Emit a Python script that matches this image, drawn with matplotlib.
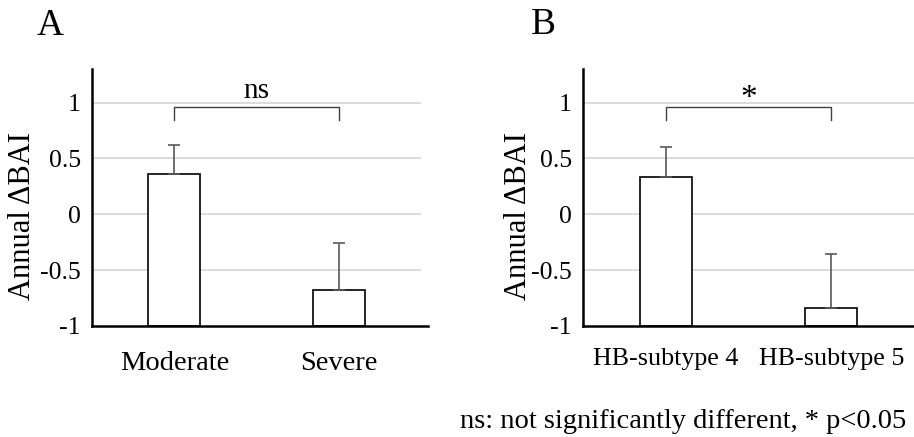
import matplotlib
matplotlib.use("Agg")
import matplotlib.pyplot as plt
import numpy as np

plt.rcParams['font.family'] = ['Liberation Serif', 'DejaVu Serif']

# Data
cats_a = ["Moderate", "Severe"]
vals_a = [0.357, -0.68]
err_a = [0.26, 0.42]
sig_a = "ns"

cats_b = ["HB-subtype 4", "HB-subtype 5"]
vals_b = [0.333, -0.84]
err_b = [0.265, 0.48]
sig_b = "*"

yticks = [-1, -0.5, 0, 0.5, 1]
ytick_labels = ["-1", "-0.5", "0", "0.5", "1"]
ymin, ymax = -1, 1.3

W, H = 914, 437
fig = plt.figure(figsize=(W / 100, H / 100), dpi=100)

def px_axes(l, r, t, b):
    return fig.add_axes([l / W, 1 - b / H, (r - l) / W, (b - t) / H])

def panel(ax, cats, vals, errs, sig, xright=1.5, xfs=20.5, xpad=18, ylx=-0.17):
    x = np.arange(len(cats))
    vals = np.array(vals)
    ax.set_xlim(-0.5, xright)
    ax.set_ylim(ymin, ymax)
    ax.hlines([t for t in yticks if t > ymin], -0.5, 1.5, color="#d9d9d9", lw=1.3, zorder=0)
    ax.bar(x, vals - ymin, bottom=ymin, width=0.316, color="white",
           edgecolor="black", linewidth=1.2, zorder=2)
    ax.errorbar(x, vals, yerr=[np.zeros_like(vals), errs], fmt="none",
                ecolor="#595959", elinewidth=1.2, capsize=4.5, capthick=1.2, zorder=3)
    # bracket
    yb, yt = 0.84, 0.958
    ax.plot([x[0], x[0], x[1], x[1]], [yb, yt, yt, yb], color="#404040", lw=1.0, zorder=3)
    if sig == "ns":
        ax.text((x[0] + x[1]) / 2, 1.10, sig, ha="center", va="center", fontsize=21)
    else:
        ax.text((x[0] + x[1]) / 2, 1.03, sig, ha="center", va="center", fontsize=24)
    for s in ["top", "right"]:
        ax.spines[s].set_visible(False)
    ax.spines["left"].set_linewidth(1.8)
    ax.spines["bottom"].set_linewidth(1.8)
    ax.set_yticks(yticks)
    ax.set_yticklabels(ytick_labels, fontsize=18.5)
    ax.set_xticks(x)
    ax.set_xticklabels(cats, fontsize=xfs)
    ax.tick_params(axis="y", length=0, pad=8)
    ax.tick_params(axis="x", length=0, pad=xpad)
    ax.set_ylabel("Annual ΔBAI", fontsize=22)
    ax.yaxis.set_label_coords(ylx, (326 - 216) / 257)

axA = px_axes(92, 428, 69, 326)
panel(axA, cats_a, vals_a, err_a, sig_a, xright=1.54, ylx=(37 - 92) / 336)
axB = px_axes(583, 914, 69, 326)
panel(axB, cats_b, vals_b, err_b, sig_b, xfs=18.7, xpad=16, ylx=(533 - 583) / 331)

fig.text(50 / W, 1 - 26 / H, "A", fontsize=27, ha="center", va="center")
fig.text(543 / W, 1 - 25 / H, "B", fontsize=27, ha="center", va="center")
fig.text(906 / W, 1 - 421 / H, "ns: not significantly different, * p<0.05",
         fontsize=20.5, ha="right", va="center")

fig.savefig("out.png", dpi=100)
